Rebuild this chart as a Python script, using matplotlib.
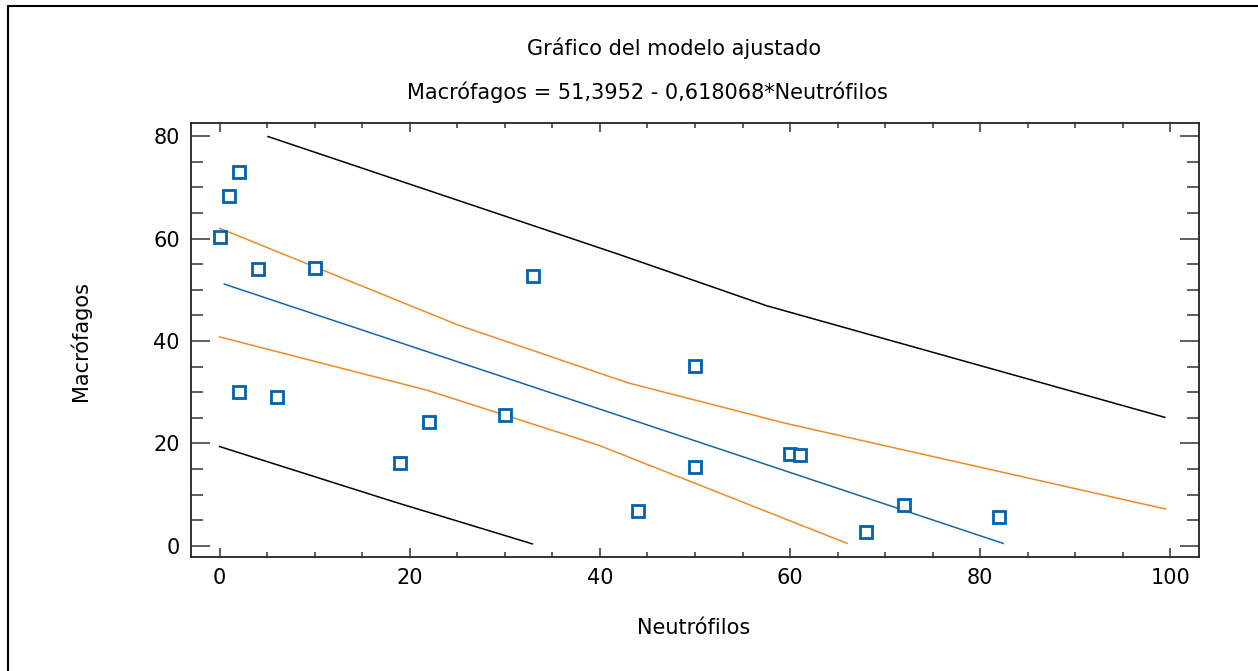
import matplotlib.pyplot as plt
from matplotlib.patches import Rectangle
from matplotlib.ticker import MultipleLocator

# observed points
neutrofilos = [2, 1, 0, 4, 10, 33, 2, 6, 19, 22, 30, 44, 50, 50, 60, 61, 68, 72, 82]
macrofagos = [73, 68.3, 60.2, 54, 54.3, 52.7, 30.1, 29.1, 16.1, 24.1, 25.6, 6.9,
              35.1, 15.5, 18, 17.7, 2.7, 7.9, 5.7]

# fitted line
fit_x = [0.5, 82.4]
fit_y = [51.1, 0.5]

# confidence limits (orange)
conf_up_x = [0, 25.1, 43.0, 59.6, 99.5]
conf_up_y = [62.0, 43.1, 31.8, 23.9, 7.2]
conf_lo_x = [0, 21.8, 39.8, 66.0]
conf_lo_y = [40.8, 30.4, 19.7, 0.5]

# prediction limits (black)
pred_up_x = [5.1, 42.0, 57.5, 99.4]
pred_up_y = [79.9, 56.9, 46.9, 25.1]
pred_lo_x = [0, 18.2, 32.9]
pred_lo_y = [19.4, 8.7, 0.4]

W, H = 1258, 671
fig = plt.figure(figsize=(W / 100, H / 100), dpi=100)
ax = fig.add_axes([191 / W, 1 - 556.7 / H, (1199 - 191) / W, (556.7 - 122.7) / H])

blue = '#1565b0'
orange = '#ee8a2a'

ax.plot(pred_up_x, pred_up_y, color='black', lw=1.1)
ax.plot(pred_lo_x, pred_lo_y, color='black', lw=1.1)
ax.plot(conf_up_x, conf_up_y, color=orange, lw=1.1)
ax.plot(conf_lo_x, conf_lo_y, color=orange, lw=1.1)
ax.plot(fit_x, fit_y, color=blue, lw=1.1)
ax.plot(neutrofilos, macrofagos, linestyle='none', marker='s', markersize=8.5,
        markerfacecolor='white', markeredgecolor='#0062ad', markeredgewidth=2)

ax.set_xlim(-3, 103)
ax.set_ylim(-2.1, 82.6)
ax.xaxis.set_major_locator(MultipleLocator(20))
ax.xaxis.set_minor_locator(MultipleLocator(5))
ax.yaxis.set_major_locator(MultipleLocator(20))
ax.yaxis.set_minor_locator(MultipleLocator(5))
ax.tick_params(axis='both', which='both', direction='in', top=True, right=True,
               color='#333333', width=1.1, labelsize=15, pad=8)
ax.tick_params(axis='x', which='major', length=6.5)
ax.tick_params(axis='x', which='minor', length=3.5)
ax.tick_params(axis='y', which='major', length=14)
ax.tick_params(axis='y', which='minor', length=8.5)
ax.tick_params(axis='y', which='both', right=True, labelright=False)
for s in ax.spines.values():
    s.set_linewidth(1.3)
    s.set_color('#222222')

fig.text(674 / W, 1 - 48 / H, 'Gráfico del modelo ajustado', ha='center', va='center', fontsize=15)
fig.text(647 / W, 1 - 92 / H, 'Macrófagos = 51,3952 - 0,618068*Neutrófilos',
         ha='center', va='center', fontsize=15)
fig.text(694 / W, 1 - 628 / H, 'Neutrófilos', ha='center', va='center', fontsize=15)
fig.text(80 / W, 1 - 341 / H, 'Macrófagos', ha='center', va='center', fontsize=15, rotation=90)

# outer frame
fig.patches.append(Rectangle((7.5 / W, -0.1), 1.2, 1 - 5.5 / H + 0.1, transform=fig.transFigure,
                             fill=False, edgecolor='black', lw=1.5))

fig.savefig('out.png', dpi=100)
